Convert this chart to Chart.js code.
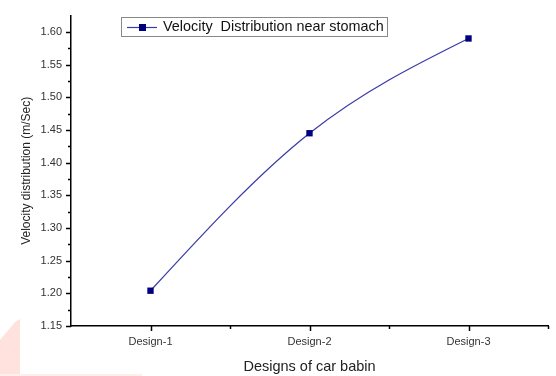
<!DOCTYPE html>
<html>
<head>
<meta charset="utf-8">
<script src="https://cdn.jsdelivr.net/npm/chart.js@4/dist/chart.umd.min.js"></script>
<style>
  html, body { margin: 0; padding: 0; background: #fff; overflow: hidden; }
  canvas { display: block; }
</style>
</head>
<body>
<canvas id="chart-1" width="556" height="376"></canvas>
<script>
// data
var designs = ["Design-1", "Design-2", "Design-3"];
var design_pos = [1, 2, 3];
var velocity = [1.204, 1.445, 1.590];
var series_name = "Velocity  Distribution near stomach";
var y_title = "Velocity distribution (m/Sec)";
var x_title = "Designs of car babin";

var points = [];
for (let i = 0; i < designs.length; i++) {
  points.push({ x: design_pos[i], y: velocity[i] });
}

// the original curve is a natural cubic spline, so swap chart.js's
// control points for ones built from natural spline slopes
var naturalSpline = {
  id: "naturalSpline",
  beforeDatasetDraw: function (chart, args) {
    const line = args.meta.dataset;
    const pts = args.meta.data;
    const n = pts.length;
    if (!line || n < 3) return;
    line.updateControlPoints(chart.chartArea, "x");
    const h = [], M = new Array(n).fill(0);
    for (let i = 0; i < n - 1; i++) h.push(pts[i + 1].x - pts[i].x);
    // thomas algorithm for second derivatives
    const a = [], b = [], c = [], r = [];
    for (let i = 1; i < n - 1; i++) {
      a.push(h[i - 1]);
      b.push(2 * (h[i - 1] + h[i]));
      c.push(h[i]);
      r.push(6 * ((pts[i + 1].y - pts[i].y) / h[i] - (pts[i].y - pts[i - 1].y) / h[i - 1]));
    }
    const m = b.length;
    for (let i = 1; i < m; i++) {
      const w = a[i] / b[i - 1];
      b[i] -= w * c[i - 1];
      r[i] -= w * r[i - 1];
    }
    for (let i = m - 1; i >= 0; i--) {
      M[i + 1] = (r[i] - (i < m - 1 ? c[i] * M[i + 2] : 0)) / b[i];
    }
    const d = [];
    for (let i = 0; i < n - 1; i++) {
      d.push((pts[i + 1].y - pts[i].y) / h[i] - h[i] * (2 * M[i] + M[i + 1]) / 6);
    }
    d.push((pts[n - 1].y - pts[n - 2].y) / h[n - 2] + h[n - 2] * (2 * M[n - 1] + M[n - 2]) / 6);
    for (let i = 0; i < n; i++) {
      const p = pts[i];
      if (i > 0) {
        p.cp1x = p.x - h[i - 1] / 3;
        p.cp1y = p.y - d[i] * h[i - 1] / 3;
      }
      if (i < n - 1) {
        p.cp2x = p.x + h[i] / 3;
        p.cp2y = p.y + d[i] * h[i] / 3;
      }
    }
  },
};

// tick marks + legend box, drawn by hand
var extras = {
  id: "extras",
  beforeDraw: function (chart) {
    const ctx = chart.ctx;
    // faint pink watermark in the bottom left
    ctx.save();
    ctx.fillStyle = "#ffe2dd";
    ctx.beginPath();
    ctx.moveTo(0, 340);
    ctx.lineTo(5, 334);
    ctx.lineTo(10, 328);
    ctx.lineTo(15, 322);
    ctx.lineTo(20, 319);
    ctx.lineTo(20, 376);
    ctx.lineTo(0, 376);
    ctx.closePath();
    ctx.fill();
    ctx.fillStyle = "#fdf0ec";
    ctx.fillRect(0, 374, 142, 2);
    ctx.restore();
  },
  afterDraw: function (chart) {
    const ctx = chart.ctx;
    const xs = chart.scales.x;
    const ys = chart.scales.y;
    const area = chart.chartArea;
    ctx.save();
    ctx.strokeStyle = "#000";
    ctx.lineWidth = 1.5;
    // y ticks, every 0.025
    for (let k = 0; k <= 18; k++) {
      const v = 1.15 + k * 0.025;
      const py = Math.round(ys.getPixelForValue(v)) + 0.5;
      const major = k % 2 === 0;
      ctx.beginPath();
      ctx.moveTo(area.left, py);
      ctx.lineTo(area.left - (major ? 5 : 3), py);
      ctx.stroke();
    }
    // x ticks, every 0.5
    for (let k = 0; k <= 5; k++) {
      const v = 1 + k * 0.5;
      const px = Math.round(xs.getPixelForValue(v)) + 0.5;
      const major = k % 2 === 0;
      ctx.beginPath();
      ctx.moveTo(px, area.bottom);
      ctx.lineTo(px, area.bottom + (major ? 5 : 3));
      ctx.stroke();
    }
    // legend
    const lx = 121, ly = 17, lw = 266, lh = 19;
    ctx.strokeStyle = "#888";
    ctx.lineWidth = 1;
    ctx.strokeRect(lx + 0.5, ly + 0.5, lw, lh);
    ctx.strokeStyle = "#3c3ca8";
    ctx.lineWidth = 1.2;
    ctx.beginPath();
    ctx.moveTo(127, 27.5);
    ctx.lineTo(157, 27.5);
    ctx.stroke();
    ctx.fillStyle = "#00007f";
    ctx.fillRect(139, 24, 7, 7);
    ctx.fillStyle = "#111";
    ctx.font = "14.4px 'Liberation Sans', Arial, sans-serif";
    ctx.textBaseline = "middle";
    ctx.fillText(series_name, 163, 27);
    ctx.restore();
  },
};

const chart1 = document.getElementById("chart-1").getContext("2d");
const myChart = new Chart(chart1, {
  type: "line",
  data: {
    datasets: [
      {
        label: series_name,
        data: points,
        borderColor: "#3c3ca8",
        borderWidth: 1.3,
        cubicInterpolationMode: "monotone",
        pointStyle: "rect",
        pointRadius: 4.5,
        pointBackgroundColor: "#00007f",
        pointBorderColor: "#00007f",
        pointBorderWidth: 0,
        clip: false,
      },
    ],
  },
  options: {
    responsive: false,
    animation: false,
    devicePixelRatio: 1,
    layout: { padding: { top: 4, right: 8, left: 0, bottom: 0 } },
    plugins: {
      legend: { display: false },
      tooltip: { enabled: false },
    },
    scales: {
      x: {
        type: "linear",
        min: 0.5,
        max: 3.5,
        afterFit: function (s) { s.height = 50; },
        afterBuildTicks: function (s) {
          s.ticks = design_pos.map(function (p) { return { value: p }; });
        },
        ticks: {
          autoSkip: false,
          maxRotation: 0,
          padding: 9,
          color: "#333",
          font: { size: 11, family: "'Liberation Sans', Arial, sans-serif" },
          callback: function (val) { return designs[design_pos.indexOf(val)]; },
        },
        grid: { display: false, drawTicks: false },
        border: { display: true, color: "#000", width: 1.5 },
        title: {
          display: true,
          text: x_title,
          color: "#222",
          padding: { top: 3, bottom: 0 },
          font: { size: 14.5, family: "'Liberation Sans', Arial, sans-serif" },
        },
      },
      y: {
        min: 1.15,
        max: 1.625,
        afterFit: function (s) { s.width = 71; },
        afterBuildTicks: function (s) {
          const t = [];
          for (let k = 0; k <= 9; k++) t.push({ value: 1.15 + k * 0.05 });
          s.ticks = t;
        },
        ticks: {
          autoSkip: false,
          padding: 9,
          color: "#333",
          font: { size: 11, family: "'Liberation Sans', Arial, sans-serif" },
          callback: function (val) { return val.toFixed(2); },
        },
        grid: { display: false, drawTicks: false },
        border: { display: true, color: "#000", width: 1.5 },
        title: {
          display: true,
          text: y_title,
          color: "#222",
          padding: { top: 19, bottom: 0 },
          font: { size: 12, family: "'Liberation Sans', Arial, sans-serif" },
        },
      },
    },
  },
  plugins: [naturalSpline, extras],
});
</script>
</body>
</html>
